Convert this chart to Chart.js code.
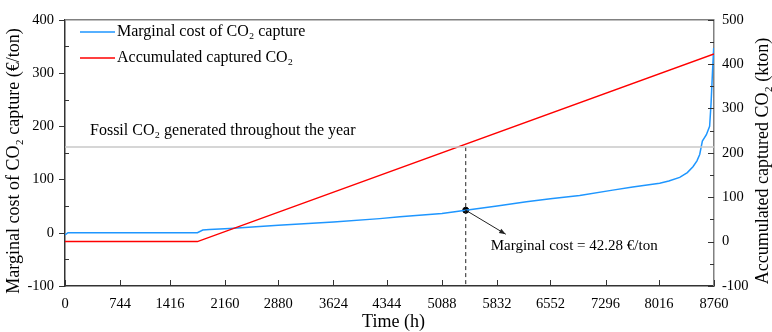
<!DOCTYPE html>
<html><head><meta charset="utf-8">
<script src="https://cdn.jsdelivr.net/npm/chart.js@4.4.1/dist/chart.umd.min.js"></script>
<style>html,body{margin:0;padding:0;background:#fff;}#wrap{width:772px;height:332px;}</style>
</head><body><div id="wrap"><canvas id="c" width="772" height="332"></canvas></div>
<script>
// Data
const xTicks = [0,744,1416,2160,2880,3624,4344,5088,5832,6552,7296,8016,8760];
const costHours = [0,40,1787,1860,1950,2224,2880,3624,4248,4520,5088,5409,5832,6228,6552,6947,7393,7663,8027,8150,8297,8400,8476,8530,8567,8603,8657,8701,8720,8740,8756];
const costValues = [-4,0,0,5,6,8,14,20,26.5,30,36,42.28,50,58,64,70,80,86,93,97,104,113,124,135,147,172,184,200,242,303,347];
const co2Hours = [0,1787,8760];
const co2Values = [0,0,423];
const fossilCO2 = 213;        // kton (right axis)
const markerHour = 5409;
const markerCost = 42.28;
const leftTicks = [-100,0,100,200,300,400];
const rightTicks = [-100,0,100,200,300,400,500];

const FONT = "'Liberation Serif','Times New Roman',serif";
const BLUE = '#1E96FF', RED = '#FF0000';

const pts = (xs, ys) => xs.map((x,i)=>({x, y: ys[i]}));

const overlay = {
  id:'overlay',
  afterDraw(chart){
    const ctx = chart.ctx, a = chart.chartArea;
    const x = chart.scales.x, y = chart.scales.y, y1 = chart.scales.y1;
    ctx.save();
    // top border
    ctx.strokeStyle = '#808080'; ctx.lineWidth = 1.5;
    ctx.beginPath(); ctx.moveTo(a.left, a.top); ctx.lineTo(a.right, a.top); ctx.stroke();
    // tick marks
    ctx.strokeStyle = '#333'; ctx.lineWidth = 1;
    for (let v = leftTicks[0]; v <= leftTicks[leftTicks.length-1]; v += 50) {
      const py = Math.round(y.getPixelForValue(v)) + 0.5;
      ctx.beginPath();
      if (v % 100 === 0) { ctx.moveTo(a.left - 6, py); ctx.lineTo(a.left, py); }
      else { ctx.moveTo(a.left, py); ctx.lineTo(a.left + 4, py); }
      ctx.stroke();
    }
    for (let v = rightTicks[0]; v <= rightTicks[rightTicks.length-1]; v += 50) {
      const py = Math.round(y1.getPixelForValue(v)) + 0.5;
      ctx.beginPath();
      ctx.moveTo(a.right, py); ctx.lineTo(a.right - (v % 100 === 0 ? 6 : 4), py);
      ctx.stroke();
    }
    xTicks.forEach(v => {
      const px = Math.round(x.getPixelForValue(v)) + 0.5;
      ctx.beginPath(); ctx.moveTo(px, a.bottom); ctx.lineTo(px, a.bottom - 6); ctx.stroke();
    });
    // titles
    ctx.fillStyle = '#000';
    ctx.font = '18px ' + FONT;
    ctx.textAlign = 'center'; ctx.textBaseline = 'middle';
    ctx.fillText('Time (h)', (a.left + a.right)/2 + 4, 322);
    ctx.save(); ctx.translate(14, 161); ctx.rotate(-Math.PI/2);
    ctx.fillText('Marginal cost of CO\u2082 capture (\u20AC/ton)', 0, 0); ctx.restore();
    ctx.save(); ctx.translate(763, 161); ctx.rotate(-Math.PI/2);
    ctx.fillText('Accumulated captured CO\u2082 (kton)', 0, 0); ctx.restore();
    // legend
    ctx.font = '16px ' + FONT; ctx.textAlign = 'left'; ctx.textBaseline = 'middle';
    [[BLUE,'Marginal cost of CO\u2082 capture',32],[RED,'Accumulated captured CO\u2082',58]].forEach(([c,t,yy])=>{
      ctx.strokeStyle = c; ctx.lineWidth = 1.5;
      ctx.beginPath(); ctx.moveTo(80, yy); ctx.lineTo(115, yy); ctx.stroke();
      ctx.fillStyle = '#000'; ctx.fillText(t, 117, yy);
    });
    // fossil label
    const fy = y1.getPixelForValue(fossilCO2);
    ctx.fillText('Fossil CO\u2082 generated throughout the year', 90, fy - 16);
    // arrow and annotation
    const mx = x.getPixelForValue(markerHour), my = y.getPixelForValue(markerCost);
    const ex = mx + 40, ey = my + 24;
    ctx.strokeStyle = '#222'; ctx.fillStyle = '#222'; ctx.lineWidth = 1;
    ctx.beginPath(); ctx.moveTo(mx, my); ctx.lineTo(ex, ey); ctx.stroke();
    const ang = Math.atan2(ey - my, ex - mx);
    ctx.beginPath(); ctx.moveTo(ex, ey);
    ctx.lineTo(ex - 7*Math.cos(ang - 0.35), ey - 7*Math.sin(ang - 0.35));
    ctx.lineTo(ex - 7*Math.cos(ang + 0.35), ey - 7*Math.sin(ang + 0.35));
    ctx.closePath(); ctx.fill();
    ctx.fillStyle = '#000';
    ctx.font = '15px ' + FONT;
    ctx.fillText('Marginal cost = 42.28 \u20AC/ton', mx + 25, my + 36);
    ctx.restore();
  }
};

const tickFont = {family:FONT, size:14.5};
new Chart(document.getElementById('c'), {
  type: 'line',
  data: {
    datasets: [
      { data: [{x:0,y:fossilCO2},{x:8760,y:fossilCO2}], yAxisID:'y1', borderColor:'#C8C8C8', borderWidth:1.5, pointRadius:0 },
      { data: [{x:markerHour,y:fossilCO2},{x:markerHour,y:rightTicks[0]}], yAxisID:'y1', borderColor:'#222', borderWidth:1, borderDash:[4,3], pointRadius:0 },
      { data: pts(co2Hours, co2Values), yAxisID:'y1', borderColor:RED, borderWidth:1.5, pointRadius:0 },
      { data: pts(costHours, costValues), yAxisID:'y', borderColor:BLUE, borderWidth:1.5, pointRadius:0, tension:0 },
      { data: [{x:markerHour,y:markerCost}], yAxisID:'y', showLine:false, pointRadius:3, pointBackgroundColor:'#000', pointBorderColor:'#000' }
    ]
  },
  options: {
    responsive:false, animation:false, devicePixelRatio:1,
    layout:{ padding:{ top:13, left:0, right:0, bottom:0 } },
    plugins:{ legend:{display:false}, tooltip:{enabled:false} },
    scales:{
      x:{ type:'linear', min:0, max:8760,
        afterBuildTicks: s => { s.ticks = xTicks.map(v=>({value:v})); },
        afterFit: s => { s.height = 46; },
        grid:{display:false, drawTicks:false}, border:{display:true, color:'#333', width:1.5},
        ticks:{ font:tickFont, color:'#000', padding:9, maxRotation:0, autoSkip:false, callback: v => String(v) } },
      y:{ position:'left', min:-100, max:400,
        afterBuildTicks: s => { s.ticks = leftTicks.map(v=>({value:v})); },
        afterFit: s => { s.width = 65; },
        grid:{display:false, drawTicks:false}, border:{display:true, color:'#333', width:1.5},
        ticks:{ font:tickFont, color:'#000', padding:11, callback: v => String(v) } },
      y1:{ position:'right', min:-100, max:500,
        afterBuildTicks: s => { s.ticks = rightTicks.map(v=>({value:v})); },
        afterFit: s => { s.width = 58; },
        grid:{display:false, drawTicks:false}, border:{display:true, color:'#808080', width:1.5},
        ticks:{ font:tickFont, color:'#000', padding:8, callback: v => String(v) } }
    }
  },
  plugins:[overlay]
});
</script></body></html>
